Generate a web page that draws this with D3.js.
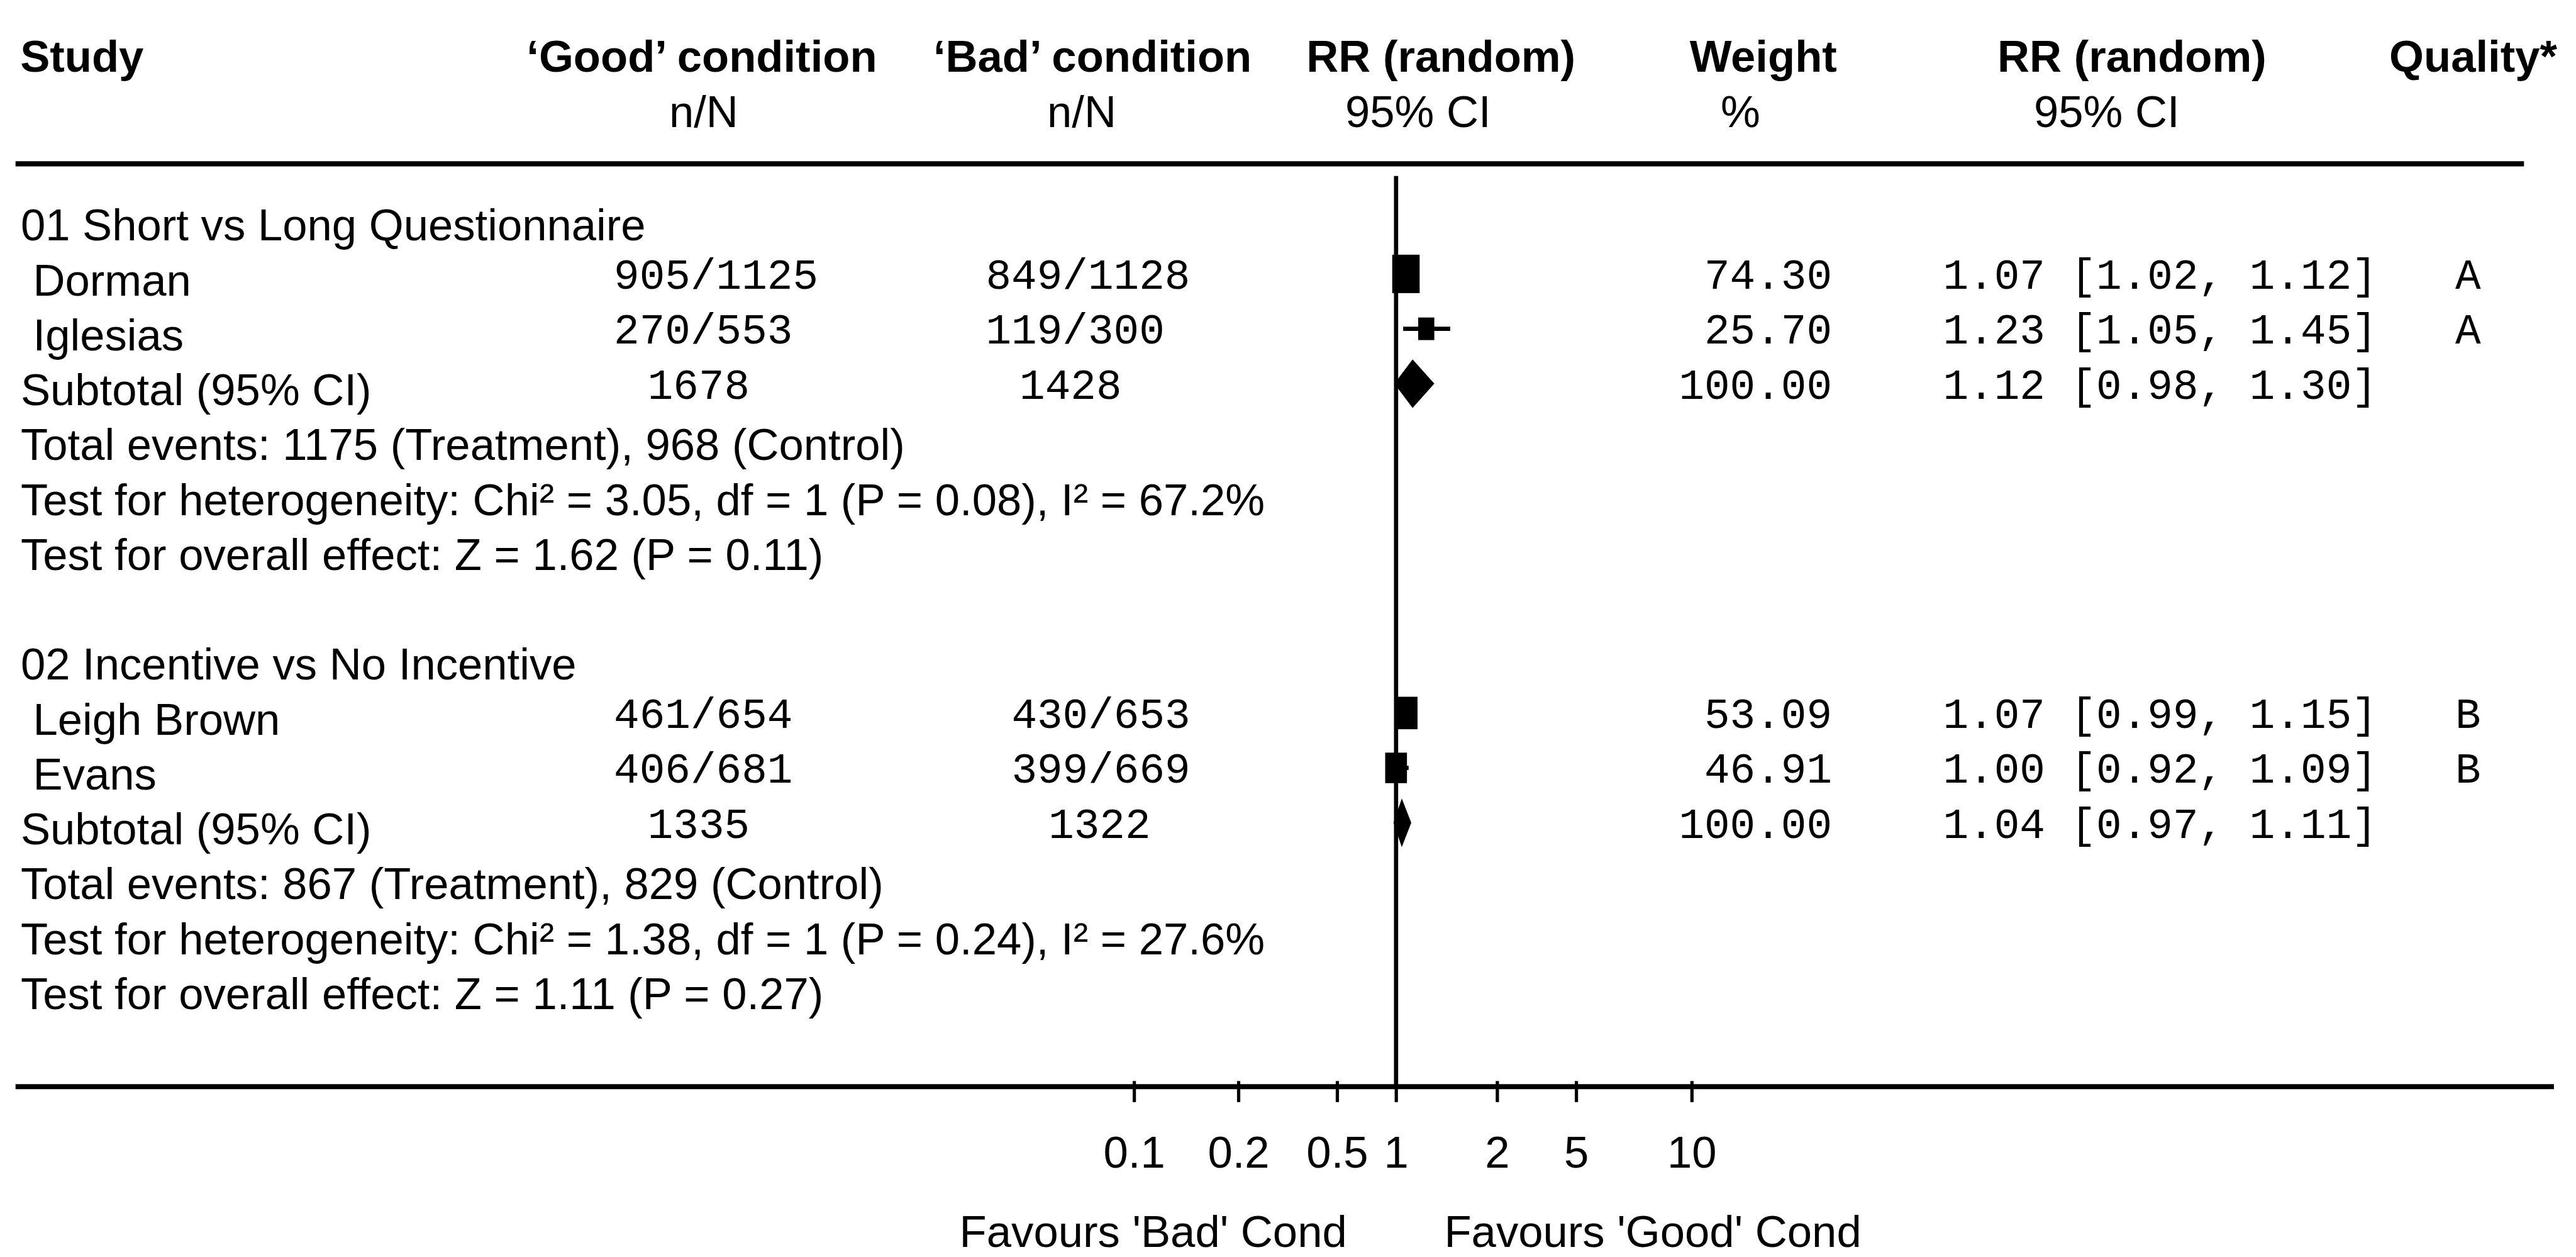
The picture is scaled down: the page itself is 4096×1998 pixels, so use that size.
<!DOCTYPE html>
<html>
<head>
<meta charset="utf-8">
<script src="https://cdn.jsdelivr.net/npm/d3@7/dist/d3.min.js"></script>
<style>
  html, body { margin: 0; padding: 0; background: #ffffff; }
  svg { display: block; }
  text { white-space: pre; }
</style>
</head>
<body>
<script>
// ---------------- data ----------------
const groupTitles   = ["01 Short vs Long Questionnaire", "02 Incentive vs No Incentive"];
const studyNames    = ["Dorman", "Iglesias", "Leigh Brown", "Evans"];
const studyGroup    = [0, 0, 1, 1];
const goodEvents    = ["905/1125", "270/553", "461/654", "406/681"];
const badEvents     = ["849/1128", "119/300", "430/653", "399/669"];
const studyWeights  = [74.30, 25.70, 53.09, 46.91];
const studyRR       = [1.07, 1.23, 1.07, 1.00];
const studyLow      = [1.02, 1.05, 0.99, 0.92];
const studyHigh     = [1.12, 1.45, 1.15, 1.09];
const studyQuality  = ["A", "A", "B", "B"];

const subGoodTotal  = [1678, 1335];
const subBadTotal   = [1428, 1322];
const subWeights    = [100.00, 100.00];
const subRR         = [1.12, 1.04];
const subLow        = [0.98, 0.97];
const subHigh       = [1.30, 1.11];

const eventsTreat   = [1175, 867];
const eventsControl = [968, 829];
const hetChi2       = [3.05, 1.38];
const hetDf         = [1, 1];
const hetP          = [0.08, 0.24];
const hetI2         = [67.2, 27.6];
const effectZ       = [1.62, 1.11];
const effectP       = [0.11, 0.27];

const tickValues    = [0.1, 0.2, 0.5, 1, 2, 5, 10];
const tickLabels    = ["0.1", "0.2", "0.5", "1", "2", "5", "10"];
const favourLabels  = ["Favours 'Bad' Cond", "Favours 'Good' Cond"];

const headerTop     = ["Study", "\u2018Good\u2019 condition", "\u2018Bad\u2019 condition", "RR (random)", "Weight", "RR (random)", "Quality*"];
const headerBottom  = ["", "n/N", "n/N", "95% CI", "%", "95% CI", ""];

// ---------------- layout (reference pixel space) ----------------
const W = 5506, H = 2686;
const SANS = "'Liberation Sans', Arial, Helvetica, sans-serif";
const MONO = "'Liberation Mono', 'Courier New', monospace";
const FS = 95, MFS = 91;

const svg = d3.select("body").append("svg")
  .attr("width", 4096).attr("height", 1998)
  .attr("viewBox", `0 0 ${W} ${H}`);
svg.append("rect").attr("width", W).attr("height", H).attr("fill", "#fff");

// rows -> baseline
const y = d3.scaleLinear().domain([0, 14]).range([514, 2156]);
const markOffset = 46, monoOffset = 14;

// ratio axis: piecewise-linear in log space, matching the reference tick spacing
const axisStops = [2424, 2647, 2858, 2984, 3200, 3369, 3616];
const xLog = d3.scaleLinear().domain(tickValues.map(Math.log10)).range(axisStops);
const x = v => xLog(Math.log10(v));

const sizeScale = d3.scaleSqrt().domain([0, 100]).range([0, 68]);
const f2 = d3.format(".2f");
const rrText = (e, l, h) => `${f2(e)} [${f2(l)}, ${f2(h)}]`;

// column anchors
const col = {
  left: 44, goodN: 1312, goodTot: 1384,
  badN: [2107, 2162], badTot: [2179, 2241],
  weightR: 3916, rr: 4153, qual: 5248
};

// ---------------- header ----------------
const headX = [43, 1500, 2335, 3080, 3769, 4557, 5107];
const headX2 = [0, 1504, 2312, 3031, 3720, 4503, 0];
const headAnchor = ["start", "middle", "middle", "middle", "middle", "middle", "start"];
const hdr = svg.append("g").attr("font-family", SANS).attr("font-size", FS).attr("fill", "#000");
hdr.selectAll("text.h1").data(headerTop).join("text")
  .attr("class", "h1")
  .attr("x", (d, i) => headX[i]).attr("y", 153)
  .attr("text-anchor", (d, i) => headAnchor[i])
  .attr("font-weight", "bold").text(d => d);
hdr.selectAll("text.h2").data(headerBottom).join("text")
  .attr("class", "h2")
  .attr("x", (d, i) => headX2[i]).attr("y", 271)
  .attr("text-anchor", "middle").text(d => d);

svg.append("line").attr("x1", 33).attr("x2", 5395).attr("y1", 350).attr("y2", 350)
  .attr("stroke", "#000").attr("stroke-width", 11);

// ---------------- vertical line of no effect ----------------
svg.append("line").attr("x1", x(1)).attr("x2", x(1)).attr("y1", 376).attr("y2", 2322)
  .attr("stroke", "#000").attr("stroke-width", 9);

// ---------------- body text ----------------
const body = svg.append("g").attr("fill", "#000");
const sans = (t, xx, yy, anchor) => body.append("text").attr("x", xx).attr("y", yy)
  .attr("font-family", SANS).attr("font-size", FS).attr("text-anchor", anchor || "start").text(t);
const mono = (t, xx, yy, anchor) => body.append("text").attr("x", xx).attr("y", yy)
  .attr("font-family", MONO).attr("font-size", MFS).attr("text-anchor", anchor || "start").text(t);

const marks = svg.append("g").attr("fill", "#000").attr("stroke", "#000");

groupTitles.forEach((title, g) => {
  const r0 = g * 8;
  sans(title, col.left, y(r0));
  const idx = studyNames.map((n, i) => i).filter(i => studyGroup[i] === g);
  idx.forEach((i, k) => {
    const r = r0 + 1 + k;
    sans(" " + studyNames[i], col.left, y(r));
    mono(goodEvents[i], col.goodN, y(r) - monoOffset);
    mono(badEvents[i], col.badN[g], y(r) - monoOffset);
    mono(f2(studyWeights[i]), col.weightR, y(r) - monoOffset, "end");
    mono(rrText(studyRR[i], studyLow[i], studyHigh[i]), col.rr, y(r) - monoOffset);
    mono(studyQuality[i], col.qual, y(r) - monoOffset);
    // CI line + box
    const cy = y(r) - markOffset;
    marks.append("line").attr("x1", x(studyLow[i])).attr("x2", x(studyHigh[i]))
      .attr("y1", cy).attr("y2", cy).attr("stroke-width", 9);
    const w = sizeScale(studyWeights[i]), h = w * 1.4;
    marks.append("rect").attr("x", x(studyRR[i]) - w / 2).attr("y", cy - h / 2)
      .attr("width", w).attr("height", h).attr("stroke", "none");
  });
  const rs = r0 + 3;
  sans("Subtotal (95% CI)", col.left, y(rs));
  mono(String(subGoodTotal[g]), col.goodTot, y(rs) - monoOffset);
  mono(String(subBadTotal[g]), col.badTot[g], y(rs) - monoOffset);
  mono(f2(subWeights[g]), col.weightR, y(rs) - monoOffset, "end");
  mono(rrText(subRR[g], subLow[g], subHigh[g]), col.rr, y(rs) - monoOffset);
  const cy = y(rs) - markOffset, dh = 52;
  marks.append("path")
    .attr("d", d3.line()([[x(subLow[g]), cy], [x(subRR[g]), cy - dh], [x(subHigh[g]), cy], [x(subRR[g]), cy + dh]]) + "Z")
    .attr("stroke", "none");

  sans(`Total events: ${eventsTreat[g]} (Treatment), ${eventsControl[g]} (Control)`, col.left, y(r0 + 4));
  sans(`Test for heterogeneity: Chi\u00B2 = ${f2(hetChi2[g])}, df = ${hetDf[g]} (P = ${f2(hetP[g])}), I\u00B2 = ${hetI2[g].toFixed(1)}%`, col.left, y(r0 + 5));
  sans(`Test for overall effect: Z = ${f2(effectZ[g])} (P = ${f2(effectP[g])})`, col.left, y(r0 + 6));
});

// ---------------- bottom axis ----------------
const axisY = 2322;
svg.append("line").attr("x1", 33).attr("x2", 5459).attr("y1", axisY).attr("y2", axisY)
  .attr("stroke", "#000").attr("stroke-width", 11);

const axisG = svg.append("g").attr("transform", `translate(0,${axisY})`)
  .call(d3.axisBottom(xLog)
    .tickValues(tickValues.map(Math.log10))
    .tickFormat((d, i) => tickLabels[i])
    .tickSize(33));
axisG.select(".domain").remove();
axisG.selectAll(".tick line").attr("y1", -12).attr("y2", 33)
  .attr("stroke", "#000").attr("stroke-width", 7);
axisG.selectAll(".tick text").attr("y", 173).attr("dy", 0)
  .attr("font-family", SANS).attr("font-size", FS).attr("fill", "#000");

// favours labels
svg.append("text").attr("x", x(1) - 105).attr("y", 2664).attr("text-anchor", "end")
  .attr("font-family", SANS).attr("font-size", FS).attr("fill", "#000").text(favourLabels[0]);
svg.append("text").attr("x", x(1) + 103).attr("y", 2664).attr("text-anchor", "start")
  .attr("font-family", SANS).attr("font-size", FS).attr("fill", "#000").text(favourLabels[1]);
</script>
</body>
</html>
